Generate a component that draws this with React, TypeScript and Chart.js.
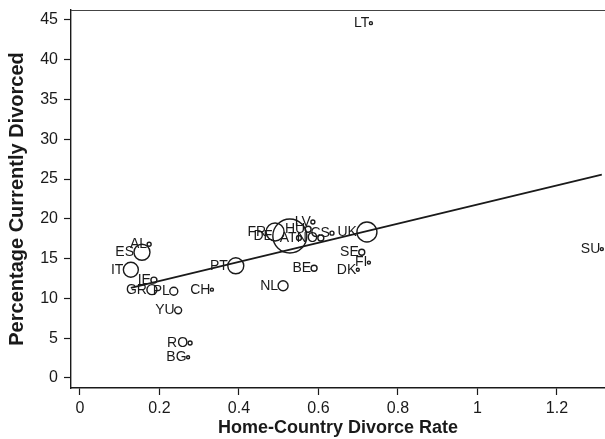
import React, { useEffect, useRef } from 'react';
import { Chart, registerables } from 'chart.js';
Chart.register(...registerables);

const countries = ['LT','SU','UK','CS','NO','AT','DE','FR','HU','LV','SE','FI','DK','BE','NL','PT','ES','AL','IT','IE','GR','PL','CH','YU','RO','BG'];
const divorceRate = [0.732,1.313,0.722,0.634,0.606,0.551,0.528,0.491,0.574,0.586,0.709,0.727,0.699,0.589,0.511,0.392,0.156,0.174,0.128,0.186,0.181,0.236,0.332,0.247,0.277,0.272];
const pctDivorced = [44.6,16.2,18.35,18.2,17.6,17.6,17.85,18.35,18.7,19.6,15.8,14.5,13.6,13.8,11.6,14.1,15.8,16.8,13.6,12.3,11.1,10.9,11.1,8.5,4.4,2.6];
const weights = [2,2,100,4,9,6,289,81,9,4,9,2,2,9,25,64,64,4,56,9,25,16,2,12,4,2];
const xTicks = [0,0.2,0.4,0.6,0.8,1,1.2];
const yTicks = [0,5,10,15,20,25,30,35,40,45];
const fitIntercept = 9.8;
const fitSlope = 12.0;

const FONT = '"Liberation Sans", Arial, sans-serif';
const INK = '#1a1a1a';

export default function App() {
  const ref = useRef<HTMLCanvasElement>(null);
  useEffect(() => {
    document.body.style.margin = '0';
    document.body.style.overflow = 'hidden';
    const canvas = ref.current;
    if (!canvas) return;
    const radii = weights.map(w => Math.max(1.5, Math.sqrt(w)));
    const xmin = Math.min(...divorceRate);
    const xmax = Math.max(...divorceRate);
    const labelPlugin = {
      id: 'pointLabels',
      afterDatasetsDraw(chart: any) {
        const ctx = chart.ctx;
        const meta = chart.getDatasetMeta(0);
        ctx.save();
        ctx.font = '14px ' + FONT;
        ctx.fillStyle = INK;
        ctx.textAlign = 'right';
        ctx.textBaseline = 'middle';
        meta.data.forEach((el: any, i: number) => {
          ctx.fillText(countries[i], el.x - radii[i], el.y);
        });
        ctx.restore();
      },
    };
    const framePlugin = {
      id: 'frameTop',
      afterDraw(chart: any) {
        const { ctx, chartArea } = chart;
        ctx.save();
        ctx.strokeStyle = '#444';
        ctx.lineWidth = 1;
        ctx.beginPath();
        ctx.moveTo(chartArea.left, chartArea.top + 0.5);
        ctx.lineTo(chartArea.right, chartArea.top + 0.5);
        ctx.stroke();
        ctx.restore();
      },
    };
    const noPad = (s: any) => { s.paddingLeft = 0; s.paddingRight = 0; s.paddingTop = 0; s.paddingBottom = 0; };
    const chart = new Chart(canvas, {
      type: 'scatter',
      data: {
        datasets: [
          {
            data: countries.map((_, i) => ({ x: divorceRate[i], y: pctDivorced[i] })),
            pointRadius: radii,
            pointBorderColor: INK,
            pointBackgroundColor: 'rgba(0,0,0,0)',
            pointBorderWidth: 1.4,
            showLine: false,
            clip: false,
          } as any,
          {
            data: [
              { x: xmin, y: fitIntercept + fitSlope * xmin },
              { x: xmax, y: fitIntercept + fitSlope * xmax },
            ],
            showLine: true,
            borderColor: INK,
            borderWidth: 1.8,
            pointRadius: 0,
          } as any,
        ],
      },
      options: {
        animation: false,
        responsive: false,
        maintainAspectRatio: false,
        devicePixelRatio: 1,
        layout: { autoPadding: false, padding: { top: 10, left: 0, right: 0, bottom: 0 } },
        plugins: { legend: { display: false }, tooltip: { enabled: false } },
        scales: {
          x: {
            type: 'linear',
            min: -0.0226,
            max: 1.321,
            afterBuildTicks: (s: any) => { s.ticks = xTicks.map(v => ({ value: v })); },
            afterFit: (s: any) => { s.height = 51; noPad(s); },
            ticks: { font: { family: FONT, size: 16 }, color: INK, padding: 4, maxRotation: 0, callback: (v: any) => String(v) },
            grid: { display: true, drawOnChartArea: false, drawTicks: true, tickLength: 7, tickColor: INK, tickWidth: 1.2 },
            border: { display: true, color: INK, width: 1.4 },
            title: { display: true, text: 'Home-Country Divorce Rate', color: INK, font: { family: FONT, size: 18, weight: 'bold' }, padding: { top: 0, bottom: 0 } },
          },
          y: {
            type: 'linear',
            min: -1.26,
            max: 46.25,
            afterBuildTicks: (s: any) => { s.ticks = yTicks.map(v => ({ value: v })); },
            afterFit: (s: any) => { s.width = 71; noPad(s); },
            ticks: { font: { family: FONT, size: 16 }, color: INK, padding: 6, callback: (v: any) => String(v) },
            grid: { display: true, drawOnChartArea: false, drawTicks: true, tickLength: 7, tickColor: INK, tickWidth: 1.2 },
            border: { display: true, color: INK, width: 1.4 },
            title: { display: true, text: 'Percentage Currently Divorced', color: INK, font: { family: FONT, size: 20, weight: 'bold' }, padding: { top: 5, bottom: 0 } },
          },
        },
      },
      plugins: [labelPlugin, framePlugin],
    });
    return () => chart.destroy();
  }, []);
  return (
    <div style={{ position: 'fixed', left: 0, top: 0, width: 605, height: 439 }}>
      <canvas ref={ref} width={605} height={439} style={{ display: 'block', width: 605, height: 439 }} />
    </div>
  );
}
